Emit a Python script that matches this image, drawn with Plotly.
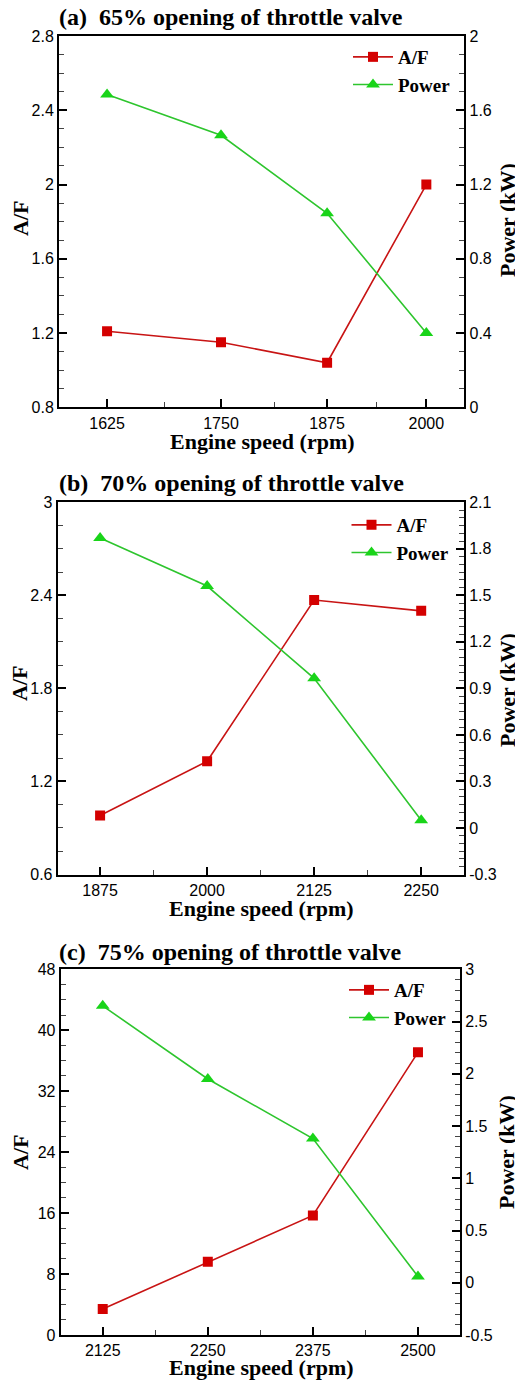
import plotly.graph_objects as go

# The page body has an 8px default margin, so the figure is drawn 8px in
# from the window's top-left corner; size it to fit inside the window.
OFF = 8
W, H = 523 - OFF, 1381 - OFF

# ---------------- data ----------------
titles = ["(a)  65% opening of throttle valve",
          "(b)  70% opening of throttle valve",
          "(c)  75% opening of throttle valve"]

rpm_a = [1625, 1750, 1875, 2000]
af_a = [1.21, 1.15, 1.04, 2.00]
pw_a = [1.685, 1.465, 1.045, 0.40]

rpm_b = [1875, 2000, 2125, 2250]
af_b = [0.98, 1.33, 2.37, 2.30]
pw_b = [1.87, 1.56, 0.965, 0.05]

rpm_c = [2125, 2250, 2375, 2500]
af_c = [3.4, 9.6, 15.7, 37.1]
pw_c = [2.65, 1.95, 1.38, 0.06]

xtick_a = [1625, 1750, 1875, 2000]
xtick_b = [1875, 2000, 2125, 2250]
xtick_c = [2125, 2250, 2375, 2500]

yl_a = [0.8, 1.2, 1.6, 2.0, 2.4, 2.8]
yl_a_txt = ["0.8", "1.2", "1.6", "2", "2.4", "2.8"]
yr_a = [0, 0.4, 0.8, 1.2, 1.6, 2.0]
yr_a_txt = ["0", "0.4", "0.8", "1.2", "1.6", "2"]

yl_b = [0.6, 1.2, 1.8, 2.4, 3.0]
yl_b_txt = ["0.6", "1.2", "1.8", "2.4", "3"]
yr_b = [-0.3, 0, 0.3, 0.6, 0.9, 1.2, 1.5, 1.8, 2.1]
yr_b_txt = ["-0.3", "0", "0.3", "0.6", "0.9", "1.2", "1.5", "1.8", "2.1"]

yl_c = [0, 8, 16, 24, 32, 40, 48]
yl_c_txt = ["0", "8", "16", "24", "32", "40", "48"]
yr_c = [-0.5, 0, 0.5, 1, 1.5, 2, 2.5, 3]
yr_c_txt = ["-0.5", "0", "0.5", "1", "1.5", "2", "2.5", "3"]

# ---------------- styling ----------------
RED_LINE = "#c81414"
RED_MK = "#d40000"
GREEN_LINE = "#2ec52e"
GREEN_MK = "#19d419"
SERIF = "Liberation Serif"
SANS = "Liberation Sans"


def fx(px):  # window pixel -> paper x
    return (px - OFF) / W


def fy(py):  # window pixel -> paper y
    return 1 - (py - OFF) / H


# pixel boxes of the plot areas in the window: (left, right, top, bottom)
boxes = [(59, 464.3, 36, 407.3), (57.7, 464, 502.3, 874.5), (60.7, 460, 969.3, 1335)]
title_y = [17.5, 483.5, 951.7]
legend_top = [38, 506, 971]
legend_x = [399, 397.5, 395]
ltitle = [(20, 219), (19, 684), (20, 1153)]
rtitle = [(507, 220), (507, 690), (506, 1152)]
xtitle = [(262, 441.7), (261, 908.3), (261, 1367.5)]

panels = [
    dict(rpm=rpm_a, af=af_a, pw=pw_a, xt=xtick_a, xtype="log",
         xrange=[3.19728, 3.31175], xminor=[1686.3, 1811.4, 1936.5],
         yl=yl_a, ylt=yl_a_txt, ylr=[0.8, 2.8], ylm=0.1,
         yr=yr_a, yrt=yr_a_txt, yrr=[0, 2.0], yrm=0.1),
    dict(rpm=rpm_b, af=af_b, pw=pw_b, xt=xtick_b, xtype="linear",
         xrange=[1825.5, 2300], xminor=[1937.5, 2062.5, 2187.5],
         yl=yl_b, ylt=yl_b_txt, ylr=[0.6, 3.0], ylm=0.15,
         yr=yr_b, yrt=yr_b_txt, yrr=[-0.3, 2.1], yrm=0.05),
    dict(rpm=rpm_c, af=af_c, pw=pw_c, xt=xtick_c, xtype="linear",
         xrange=[2075, 2550], xminor=[2187.5, 2312.5, 2437.5],
         yl=yl_c, ylt=yl_c_txt, ylr=[0, 48], ylm=2,
         yr=yr_c, yrt=yr_c_txt, yrr=[-0.5, 3], yrm=0.1),
]

fig = go.Figure()
layout = dict(
    width=W, height=H,
    margin=dict(l=0, r=0, t=0, b=0),
    paper_bgcolor="white", plot_bgcolor="white",
    showlegend=True,
    annotations=[],
)

tickfont = dict(family=SANS, size=16, color="black")


def note(text, x, y, size, angle=0, xanchor="center"):
    return dict(text=text, xref="paper", yref="paper", x=fx(x), y=fy(y),
                xanchor=xanchor, yanchor="middle", showarrow=False,
                textangle=angle, borderpad=0,
                font=dict(family=SERIF, size=size, color="black"))


for i, p in enumerate(panels):
    l, r, t, b = boxes[i]
    xd = [fx(l), fx(r)]
    yd = [fy(b), fy(t)]
    xname = "x" if i == 0 else f"x{i+1}"
    xkey = "xaxis" if i == 0 else f"xaxis{i+1}"
    yl_name = "y" if i == 0 else f"y{2*i+1}"
    yl_key = "yaxis" if i == 0 else f"yaxis{2*i+1}"
    yr_name = f"y{2*i+2}"
    yr_key = f"yaxis{2*i+2}"
    lg_key = "legend" if i == 0 else f"legend{i+1}"

    fig.add_trace(go.Scatter(
        x=p["rpm"], y=p["af"], xaxis=xname, yaxis=yl_name, name="<b>A/F</b>",
        mode="lines+markers", legend=lg_key,
        line=dict(color=RED_LINE, width=1.6),
        marker=dict(symbol="square", size=10, color=RED_MK, line=dict(width=0)),
    ))
    fig.add_trace(go.Scatter(
        x=p["rpm"], y=p["pw"], xaxis=xname, yaxis=yr_name, name="<b>Power</b>",
        mode="lines+markers", legend=lg_key,
        line=dict(color=GREEN_LINE, width=1.6),
        marker=dict(symbol="triangle-up", size=12, color=GREEN_MK, line=dict(width=0)),
    ))

    layout[xkey] = dict(
        domain=xd, anchor=yl_name, type=p["xtype"], range=p["xrange"],
        tickmode="array", tickvals=p["xt"], ticktext=[str(v) for v in p["xt"]],
        ticks="inside", ticklen=8, tickwidth=1.5, tickcolor="black",
        minor=dict(tickmode="array", tickvals=p["xminor"], ticks="inside",
                   ticklen=5, tickwidth=1, tickcolor="#444"),
        showline=True, linewidth=2, linecolor="black", mirror=True,
        showgrid=False, zeroline=False, tickfont=tickfont,
        automargin=False,
    )
    layout[yl_key] = dict(
        domain=yd, anchor=xname, range=p["ylr"],
        tickmode="array", tickvals=p["yl"], ticktext=p["ylt"],
        ticks="inside", ticklen=8, tickwidth=1.5, tickcolor="black",
        minor=dict(dtick=p["ylm"], tick0=p["ylr"][0], ticks="inside",
                   ticklen=5, tickwidth=1, tickcolor="#444"),
        showline=True, linewidth=2, linecolor="black",
        showgrid=False, zeroline=False, tickfont=tickfont,
        automargin=False,
    )
    layout[yr_key] = dict(
        overlaying=yl_name, side="right", anchor=xname, range=p["yrr"],
        tickmode="array", tickvals=p["yr"], ticktext=p["yrt"],
        ticks="inside", ticklen=8, tickwidth=1.5, tickcolor="black",
        minor=dict(dtick=p["yrm"], tick0=p["yrr"][0], ticks="inside",
                   ticklen=5, tickwidth=1, tickcolor="#444"),
        showline=True, linewidth=2, linecolor="black",
        showgrid=False, zeroline=False, tickfont=tickfont,
        automargin=False,
    )
    layout[lg_key] = dict(
        x=fx(legend_x[i] - 51), y=fy(legend_top[i]), xanchor="left", yanchor="top",
        bgcolor="rgba(0,0,0,0)", borderwidth=0,
        font=dict(family=SERIF, size=19, color="black"),
        itemwidth=40, tracegroupgap=0,
    )
    layout["annotations"].append(note("<b>" + titles[i] + "</b>", 57.5, title_y[i], 24, xanchor="left"))
    layout["annotations"].append(note("<b>A/F</b>", ltitle[i][0], ltitle[i][1], 22, angle=-90))
    layout["annotations"].append(note("<b>Power (kW)</b>", rtitle[i][0], rtitle[i][1], 22, angle=-90))
    layout["annotations"].append(note("<b>Engine speed (rpm)</b>", xtitle[i][0], xtitle[i][1], 22))

fig.update_layout(**layout)
fig.write_html("out.html")
